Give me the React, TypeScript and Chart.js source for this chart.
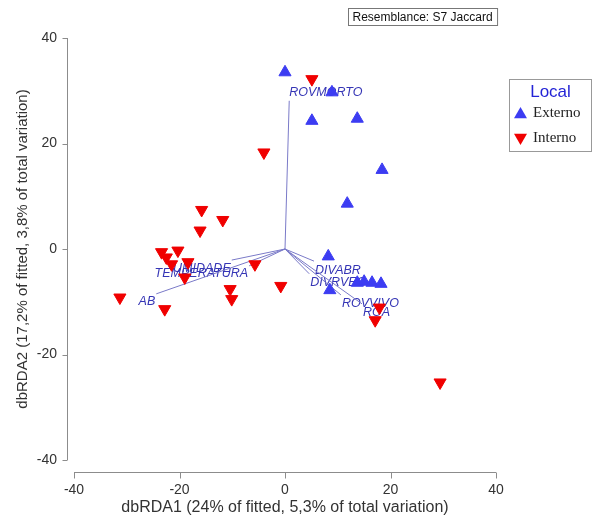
import React, { useEffect, useRef } from 'react';
import { Chart, registerables } from 'chart.js';

Chart.register(...registerables);

// ---- data ----
const externoX = [0, 8.9, 5.1, 13.7, 18.4, 11.8, 8.2, 8.5, 13.7, 15.0, 16.5, 18.2];
const externoY = [33.5, 29.7, 24.3, 24.7, 15.0, 8.6, -1.4, -7.8, -6.4, -6.2, -6.4, -6.6];
const internoX = [5.1, -4.0, -15.8, -11.8, -16.1, -23.4, -20.3, -22.5, -21.5, -18.4, -19.0, -5.7, -10.4, -10.1, -0.8, -31.3, -22.8, 17.9, 17.1, 29.4];
const internoY = [32.2, 18.3, 7.4, 5.5, 3.5, -0.6, -0.3, -1.6, -2.9, -2.5, -5.4, -2.9, -7.6, -9.5, -7.0, -9.2, -11.4, -11.1, -13.5, -25.3];

const vectorNames = ['ROVMORTO', 'AB', 'UMIDADE', 'TEMPERATURA', 'DIVABR', 'DIVRVEG', 'ROVVIVO', 'ROA'];
const vectorX = [0.8, -24.4, -10.1, -6.8, 5.5, 4.6, 10.6, 14.6];
const vectorY = [28.1, -8.5, -2.1, -3.2, -2.3, -4.7, -8.7, -10.4];

const axisTicks = [-40, -20, 0, 20, 40];
const xTitle = 'dbRDA1 (24% of fitted, 5,3% of total variation)';
const yTitle = 'dbRDA2 (17,2% of fitted, 3,8% of total variation)';
const legendTitle = 'Local';
const seriesNames = ['Externo', 'Interno'];
const resemblanceText = 'Resemblance: S7 Jaccard';

const BLUE = '#3c3cf2';
const RED = '#f00000';
const VEC_LINE = '#7a7ac8';
const VEC_TEXT = '#3535b5';
const SANS = '"Liberation Sans", Arial, sans-serif';
const SERIF = '"Liberation Serif", "Times New Roman", serif';

function tri(ctx: CanvasRenderingContext2D, x: number, y: number, r: number, down: boolean, color: string) {
  const s = down ? -1 : 1;
  ctx.beginPath();
  ctx.moveTo(x, y - s * r);
  ctx.lineTo(x + r * 0.866, y + s * r * 0.5);
  ctx.lineTo(x - r * 0.866, y + s * r * 0.5);
  ctx.closePath();
  ctx.fillStyle = color;
  ctx.fill();
}

const decor = {
  id: 'decor',
  beforeDatasetsDraw(chart: any) {
    const { ctx, scales } = chart;
    const xs = scales.x;
    const ys = scales.y;
    ctx.save();
    ctx.font = `italic 12.5px ${SANS}`;
    ctx.fillStyle = VEC_TEXT;
    ctx.textBaseline = 'middle';
    vectorNames.forEach((name, i) => {
      const px = xs.getPixelForValue(vectorX[i]);
      const py = ys.getPixelForValue(vectorY[i]);
      if (vectorY[i] > 15) {
        ctx.textAlign = 'left';
        ctx.fillText(name, px, py - 8);
      } else if (vectorX[i] < 0) {
        ctx.textAlign = 'right';
        ctx.fillText(name, px - 1, py + 8);
      } else {
        ctx.textAlign = 'left';
        ctx.fillText(name, px + 1, py + 9);
      }
    });
    ctx.restore();
  },
  afterDraw(chart: any) {
    const { ctx, scales, chartArea } = chart;
    const xs = scales.x;
    const ys = scales.y;
    ctx.save();
    ctx.strokeStyle = '#8c8c8c';
    ctx.lineWidth = 1;
    // x axis (detached)
    const ax = Math.round(chartArea.bottom + 12) + 0.5;
    ctx.beginPath();
    ctx.moveTo(xs.getPixelForValue(axisTicks[0]), ax);
    ctx.lineTo(xs.getPixelForValue(axisTicks[axisTicks.length - 1]), ax);
    axisTicks.forEach((t) => {
      const p = Math.round(xs.getPixelForValue(t)) + 0.5;
      ctx.moveTo(p, ax);
      ctx.lineTo(p, ax + 6);
    });
    ctx.stroke();
    // y axis (detached)
    const ay = Math.round(chartArea.left - 7) + 0.5;
    ctx.beginPath();
    ctx.moveTo(ay, ys.getPixelForValue(axisTicks[axisTicks.length - 1]));
    ctx.lineTo(ay, ys.getPixelForValue(axisTicks[0]));
    axisTicks.forEach((t) => {
      const p = Math.round(ys.getPixelForValue(t)) + 0.5;
      ctx.moveTo(ay, p);
      ctx.lineTo(ay - 5, p);
    });
    ctx.stroke();

    // resemblance box
    ctx.font = `12px ${SANS}`;
    const rw = ctx.measureText(resemblanceText).width;
    const rx = 348.5, ry = 8.5;
    ctx.fillStyle = '#fff';
    ctx.fillRect(rx, ry, rw + 9, 17);
    ctx.strokeStyle = '#777';
    ctx.strokeRect(rx, ry, rw + 9, 17);
    ctx.fillStyle = '#111';
    ctx.textAlign = 'left';
    ctx.textBaseline = 'middle';
    ctx.fillText(resemblanceText, rx + 4, ry + 9);

    // legend
    const lx = 509.5, ly = 79.5, lw = 82, lh = 72;
    ctx.strokeStyle = '#999';
    ctx.strokeRect(lx, ly, lw, lh);
    ctx.font = `17px ${SANS}`;
    ctx.fillStyle = '#2424d6';
    ctx.textAlign = 'center';
    ctx.fillText(legendTitle, lx + lw / 2, ly + 13);
    const ds = chart.data.datasets.slice(0, 2);
    ds.forEach((d: any, i: number) => {
      const cy = ly + 34 + i * 25;
      tri(ctx, 520.5, cy + (i === 0 ? 1 : -1), 7.5, i === 1, d.backgroundColor);
      ctx.font = `15px ${SERIF}`;
      ctx.fillStyle = '#222';
      ctx.textAlign = 'left';
      ctx.fillText(d.label, 533, cy);
    });
    ctx.restore();
  },
};

export default function App() {
  const ref = useRef<HTMLCanvasElement | null>(null);
  useEffect(() => {
    if (!ref.current) return;
    const vectorSets = vectorNames.map((name, i) => ({
      label: name,
      data: [{ x: 0, y: 0 }, { x: vectorX[i], y: vectorY[i] }],
      showLine: true,
      borderColor: VEC_LINE,
      borderWidth: 1,
      pointRadius: 0,
      pointHoverRadius: 0,
      order: 2,
    }));
    const chart = new Chart(ref.current, {
      type: 'scatter',
      data: {
        datasets: [
          {
            label: seriesNames[0],
            data: externoX.map((x, i) => ({ x, y: externoY[i] })),
            pointStyle: 'triangle',
            rotation: 0,
            pointRadius: 7,
            borderWidth: 1,
            backgroundColor: BLUE,
            borderColor: BLUE,
            order: 0,
          },
          {
            label: seriesNames[1],
            data: internoX.map((x, i) => ({ x, y: internoY[i] })),
            pointStyle: 'triangle',
            rotation: 180,
            pointRadius: 7,
            borderWidth: 1,
            backgroundColor: RED,
            borderColor: RED,
            order: 1,
          },
          ...vectorSets,
        ] as any,
      },
      options: {
        responsive: false,
        animation: false,
        devicePixelRatio: 1,
        layout: { padding: { left: 14, right: 102, top: 38, bottom: 2 } },
        plugins: { legend: { display: false }, tooltip: { enabled: false }, title: { display: false } },
        scales: {
          x: {
            type: 'linear',
            min: -40,
            max: 40,
            afterFit: (s: any) => { s.height = 57; },
            afterBuildTicks: (s: any) => { s.ticks = axisTicks.map((v) => ({ value: v })); },
            grid: { display: false, drawTicks: false },
            border: { display: false },
            ticks: { padding: 22, color: '#333', font: { family: SANS, size: 14 } },
            title: { display: true, text: xTitle, color: '#333', font: { family: SANS, size: 16 }, padding: { top: 0, bottom: 0 } },
          },
          y: {
            type: 'linear',
            min: -40,
            max: 40,
            afterFit: (s: any) => { s.width = 60; },
            afterBuildTicks: (s: any) => { s.ticks = axisTicks.map((v) => ({ value: v })); },
            grid: { display: false, drawTicks: false },
            border: { display: false },
            ticks: { padding: 17, color: '#333', font: { family: SANS, size: 14 } },
            title: { display: true, text: yTitle, color: '#333', font: { family: SANS, size: 15 }, padding: { top: 0, bottom: 0 } },
          },
        },
      },
      plugins: [decor],
    });
    return () => chart.destroy();
  }, []);
  return (
    <div style={{ position: 'absolute', left: 0, top: 0, width: 598, height: 519, background: '#fff' }}>
      <canvas ref={ref} width={598} height={519} style={{ display: 'block' }} />
    </div>
  );
}
